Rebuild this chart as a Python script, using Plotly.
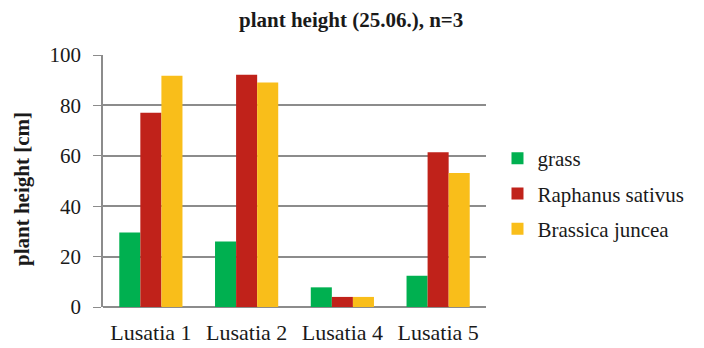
import plotly.graph_objects as go

categories = ["Lusatia 1", "Lusatia 2", "Lusatia 4", "Lusatia 5"]
grass = [29.6, 26.0, 7.8, 12.4]
raphanus = [77.1, 92.2, 4.0, 61.4]
brassica = [91.8, 89.1, 4.0, 53.2]
series_names = ["grass", "Raphanus sativus", "Brassica juncea"]
colors = ["#00B050", "#C0221A", "#F9BE1A"]

fig = go.Figure()
for i, (name, vals, col) in enumerate(zip(series_names, [grass, raphanus, brassica], colors)):
    fig.add_trace(go.Bar(x=categories, y=vals, name=name, marker=dict(color=col, line=dict(width=0)),
                         legendgroup=str(i)))

font = "Liberation Serif, Times New Roman, serif"
fig.update_layout(
    width=704, height=348,
    margin=dict(l=103, r=218, t=55, b=41, autoexpand=False),
    paper_bgcolor="white", plot_bgcolor="white",
    font=dict(family=font, size=21, color="#1a1a1a"),
    barmode="group", bargap=0.34, bargroupgap=0,
    showlegend=True,
    legend=dict(x=1.03, y=0.45, xanchor="left", yanchor="middle", tracegroupgap=5,
                font=dict(size=21, family=font), itemwidth=30),
    annotations=[
        dict(text="<b>plant height (25.06.), n=3</b>", xref="paper", yref="paper",
             x=0.6475, y=1.0, yshift=35, xanchor="center", yanchor="middle",
             showarrow=False, font=dict(size=21, family=font, color="#1a1a1a")),
        dict(text="<b>plant height [cm]</b>", xref="paper", yref="paper", textangle=-90,
             x=-0.2115, y=0.5, yshift=-8, xanchor="center", yanchor="middle",
             showarrow=False, font=dict(size=21, family=font, color="#1a1a1a")),
    ],
)
fig.update_xaxes(showgrid=False, showline=False, ticks="", tickfont=dict(size=22),
                 ticklabelstandoff=10, automargin=False)
fig.update_yaxes(range=[0, 100], dtick=20, showgrid=True, gridcolor="#8c8c8c", gridwidth=1.5,
                 showline=True, linecolor="#8c8c8c", linewidth=1.5, ticks="outside", ticklen=8,
                 tickcolor="#8c8c8c", zeroline=True, zerolinecolor="#8c8c8c", zerolinewidth=1.5,
                 tickfont=dict(size=21), ticklabelstandoff=8, automargin=False)
fig.write_html("out.html", config={"displayModeBar": False},
               post_script="document.body.style.margin='0';document.body.style.overflow='hidden';")
